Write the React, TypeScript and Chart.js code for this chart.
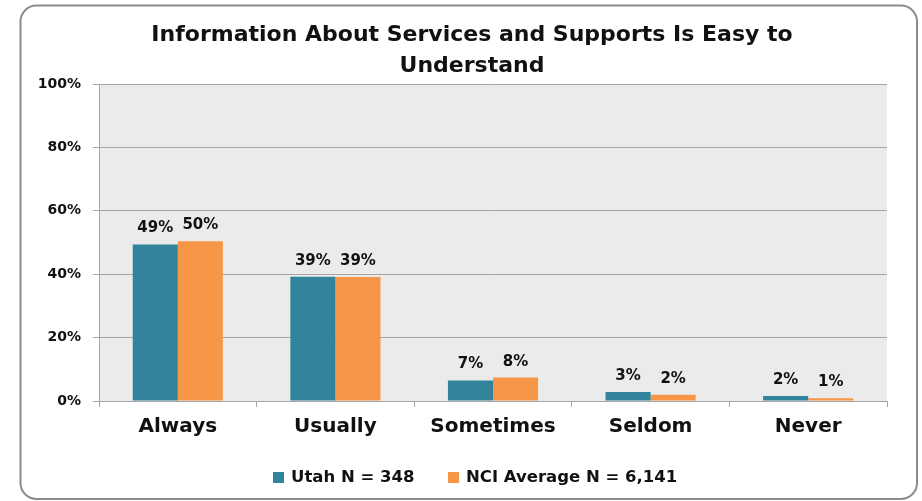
import React, { useEffect, useRef } from "react";
import { Chart, registerables } from "chart.js";

Chart.register(...registerables);

const titleLines = ["Information About Services and Supports Is Easy to", "Understand"];
const categories = ["Always", "Usually", "Sometimes", "Seldom", "Never"];
const utahValues = [49.4, 39.2, 6.5, 2.8, 1.6];
const nciValues = [50.4, 39.1, 7.4, 2.0, 0.9];
const utahLabels = ["49%", "39%", "7%", "3%", "2%"];
const nciLabels = ["50%", "39%", "8%", "2%", "1%"];
const seriesNames = ["Utah N = 348", "NCI Average N = 6,141"];
const yTicks = [0, 20, 40, 60, 80, 100];

const FONT = "'DejaVu Sans', sans-serif";
const TEAL = "#31849B";
const ORANGE = "#F79646";
const GRID = "#A6A6A6";
const TEXT = "#111111";

export default function App() {
  const ref = useRef<HTMLCanvasElement | null>(null);

  useEffect(() => {
    const canvas = ref.current;
    if (!canvas) return;

    const bgPlugin = {
      id: "bg",
      beforeDraw(chart: any) {
        const { ctx, chartArea } = chart;
        ctx.save();
        ctx.fillStyle = "#ffffff";
        ctx.fillRect(0, 0, chart.width, chart.height);
        const x = 20.5, y = 5.5, w = 896.5, h = 493.5, r = 16;
        ctx.beginPath();
        ctx.moveTo(x + r, y);
        ctx.lineTo(x + w - r, y);
        ctx.arcTo(x + w, y, x + w, y + r, r);
        ctx.lineTo(x + w, y + h - r);
        ctx.arcTo(x + w, y + h, x + w - r, y + h, r);
        ctx.lineTo(x + r, y + h);
        ctx.arcTo(x, y + h, x, y + h - r, r);
        ctx.lineTo(x, y + r);
        ctx.arcTo(x, y, x + r, y, r);
        ctx.closePath();
        ctx.strokeStyle = "#8c8c8c";
        ctx.lineWidth = 2;
        ctx.stroke();
        ctx.fillStyle = "#EBEBEB";
        ctx.fillRect(chartArea.left, chartArea.top, chartArea.right - chartArea.left, chartArea.bottom - chartArea.top);
        ctx.restore();
      },
    };

    const labelPlugin = {
      id: "labels",
      afterDatasetsDraw(chart: any) {
        const { ctx } = chart;
        const lbls = [utahLabels, nciLabels];
        ctx.save();
        ctx.font = `bold 15px ${FONT}`;
        ctx.fillStyle = TEXT;
        ctx.textAlign = "center";
        ctx.textBaseline = "alphabetic";
        chart.data.datasets.forEach((_: any, di: number) => {
          const meta = chart.getDatasetMeta(di);
          meta.data.forEach((el: any, i: number) => {
            ctx.fillText(lbls[di][i], el.x, el.y - 12);
          });
        });
        ctx.restore();
      },
    };

    const titleLegendPlugin = {
      id: "titleLegend",
      afterDraw(chart: any) {
        const { ctx } = chart;
        ctx.save();
        ctx.font = `bold 22px ${FONT}`;
        ctx.fillStyle = TEXT;
        ctx.textAlign = "center";
        ctx.textBaseline = "middle";
        titleLines.forEach((t, i) => ctx.fillText(t, 472, 35 + i * 31));

        ctx.font = `bold 16.5px ${FONT}`;
        ctx.textAlign = "left";
        const colors = [TEAL, ORANGE];
        const starts = [273, 448];
        chart.data.datasets.forEach((ds: any, i: number) => {
          ctx.fillStyle = colors[i];
          ctx.fillRect(starts[i], 472, 11, 11);
          ctx.fillStyle = TEXT;
          ctx.fillText(ds.label, starts[i] + 18, 478);
        });
        ctx.restore();
      },
    };

    const chart = new Chart(canvas, {
      type: "bar",
      data: {
        labels: categories,
        datasets: [
          { label: seriesNames[0], data: utahValues, backgroundColor: TEAL, borderWidth: 0 },
          { label: seriesNames[1], data: nciValues, backgroundColor: ORANGE, borderWidth: 0 },
        ],
      },
      options: {
        responsive: false,
        animation: false,
        layout: { padding: { left: 0, top: 84, right: 35, bottom: 60 } },
        datasets: {
          bar: { barPercentage: 1, categoryPercentage: 0.572 },
        },
        plugins: {
          legend: { display: false },
          title: { display: false },
          tooltip: { enabled: false },
        },
        scales: {
          x: {
            afterFit(s: any) {
              s.height = 40;
            },
            grid: {
              display: true,
              drawOnChartArea: false,
              offset: true,
              tickLength: 6,
              color: GRID,
            },
            border: { display: true, color: GRID },
            ticks: {
              color: TEXT,
              font: { family: FONT, size: 20, weight: "bold" },
              padding: 8,
            },
          },
          y: {
            min: 0,
            max: 100,
            afterFit(s: any) {
              s.width = 99;
            },
            afterBuildTicks(s: any) {
              s.ticks = yTicks.map((v) => ({ value: v }));
            },
            grid: { color: GRID, tickLength: 6, lineWidth: 1 },
            border: { display: true, color: GRID },
            ticks: {
              color: TEXT,
              font: { family: FONT, size: 14, weight: "bold" },
              padding: 12,
              callback: (v: any) => `${v}%`,
            },
          },
        },
      },
      plugins: [bgPlugin, labelPlugin, titleLegendPlugin],
    });

    return () => chart.destroy();
  }, []);

  return (
    <div style={{ position: "absolute", left: 0, top: 0, width: 922, height: 501 }}>
      <canvas ref={ref} width={922} height={501} />
    </div>
  );
}
